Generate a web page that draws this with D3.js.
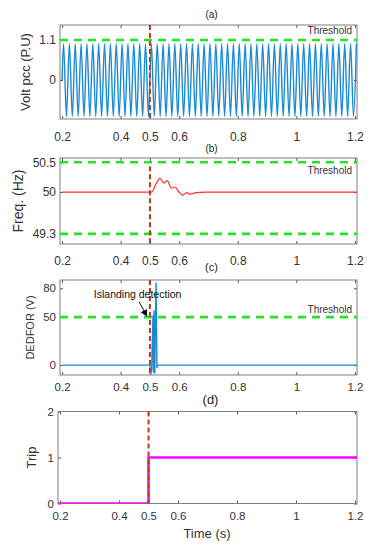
<!DOCTYPE html>
<html>
<head>
<meta charset="utf-8">
<script src="https://cdn.jsdelivr.net/npm/d3@7"></script>
<style>
  body { margin: 0; background: #fff; }
  text { font-family: "Liberation Sans", Arial, sans-serif; }
</style>
</head>
<body>
<script>
const width = 378;
const height = 550;

// shared time axis
const timeTicks = [0.2, 0.4, 0.5, 0.6, 0.8, 1, 1.2];
const islandingTime = 0.5;

// (a) voltage at PCC, extrema of the 50 Hz wave
const voltT = [0.2,
  0.205, 0.215, 0.225, 0.235, 0.245, 0.255, 0.265, 0.275, 0.285, 0.295,
  0.305, 0.315, 0.325, 0.335, 0.345, 0.355, 0.365, 0.375, 0.385, 0.395,
  0.405, 0.415, 0.425, 0.435, 0.445, 0.455, 0.465, 0.475, 0.485, 0.495,
  0.505, 0.515, 0.525, 0.535, 0.545, 0.555, 0.565, 0.575, 0.585, 0.595,
  0.605, 0.615, 0.625, 0.635, 0.645, 0.655, 0.665, 0.675, 0.685, 0.695,
  0.705, 0.715, 0.725, 0.735, 0.745, 0.755, 0.765, 0.775, 0.785, 0.795,
  0.805, 0.815, 0.825, 0.835, 0.845, 0.855, 0.865, 0.875, 0.885, 0.895,
  0.905, 0.915, 0.925, 0.935, 0.945, 0.955, 0.965, 0.975, 0.985, 0.995,
  1.005, 1.015, 1.025, 1.035, 1.045, 1.055, 1.065, 1.075, 1.085, 1.095,
  1.105, 1.115, 1.125, 1.135, 1.145, 1.155, 1.165, 1.175, 1.185, 1.195,
  1.205];
const voltV = [0,
  1, -1, 1, -1, 1, -1, 1, -1, 1, -1,
  1, -1, 1, -1, 1, -1, 1, -1, 1, -1,
  1, -1, 1, -1, 1, -1, 1, -1, 1, -1,
  1, -1, 1, -1, 1, -1, 1, -1, 1, -1,
  1, -1, 1, -1, 1, -1, 1, -1, 1, -1,
  1, -1, 1, -1, 1, -1, 1, -1, 1, -1,
  1, -1, 1, -1, 1, -1, 1, -1, 1, -1,
  1, -1, 1, -1, 1, -1, 1, -1, 1, -1,
  1, -1, 1, -1, 1, -1, 1, -1, 1, -1,
  1, -1, 1, -1, 1, -1, 1, -1, 1, -1,
  1];
const voltTicks = [0, 1.1];
const voltThresholds = [1.1];

// (b) frequency
const freqT = [0.2, 0.506, 0.52, 0.534, 0.548, 0.559, 0.574, 0.586, 0.599, 0.612, 0.626, 0.637, 0.657, 0.688, 1.21];
const freqV = [50, 50, 50.13, 50.23, 50.15, 50.19, 50.065, 50.08, 50.0, 49.95, 49.99, 49.965, 49.99, 50, 50];
const freqTicks = [49.3, 50, 50.5];
const freqThresholds = [50.5, 49.3];

// (c) DEDFOR
const dedT = [0.2, 0.5, 0.5024, 0.506, 0.5105, 0.512, 0.514, 0.5165, 0.521, 0.524, 0.527, 1.21];
const dedV = [0, 0, -10, -4, 52, -8, 57, -9, 86, -3, 0, 0];
const dedTicks = [0, 50, 80];
const dedThresholds = [50];

// (d) trip signal
const tripT = [0.193, 0.5, 0.5, 1.21];
const tripV = [0, 0, 1, 1];
const tripTicks = [0, 1, 2];

const svg = d3.select("body").append("svg")
  .attr("width", width)
  .attr("height", height);

const defs = svg.append("defs");
defs.append("marker")
  .attr("id", "arrowhead")
  .attr("viewBox", "0 0 10 10")
  .attr("refX", 9).attr("refY", 5)
  .attr("markerWidth", 7).attr("markerHeight", 7)
  .attr("orient", "auto")
  .append("path")
    .attr("d", "M0,0 L10,5 L0,10 Z")
    .attr("fill", "#111");

const fmt = d3.format("~g");
const red = "#b83a1a";
const green = "#22e622";

function panel(cfg) {
  const x = d3.scaleLinear().domain([0.193, 1.207]).range([cfg.left, cfg.right]);
  const y = d3.scaleLinear().domain(cfg.yDomain).range([cfg.bottom, cfg.top]);
  const g = svg.append("g");

  const clipId = "clip-" + cfg.name;
  defs.append("clipPath").attr("id", clipId)
    .append("rect")
      .attr("x", cfg.left).attr("y", cfg.top)
      .attr("width", cfg.right - cfg.left).attr("height", cfg.bottom - cfg.top);

  // axes with inward ticks
  g.append("g")
    .attr("transform", `translate(0,${cfg.bottom})`)
    .call(d3.axisBottom(x).tickValues(timeTicks).tickFormat(fmt)
      .tickSizeInner(-3).tickSizeOuter(0).tickPadding(cfg.xPad));
  g.append("g")
    .attr("transform", `translate(0,${cfg.top})`)
    .call(d3.axisTop(x).tickValues(timeTicks).tickFormat("")
      .tickSizeInner(-3).tickSizeOuter(0));
  g.append("g")
    .attr("transform", `translate(${cfg.left},0)`)
    .call(d3.axisLeft(y).tickValues(cfg.yTicks).tickFormat(fmt)
      .tickSizeInner(-3).tickSizeOuter(0).tickPadding(4));
  g.append("g")
    .attr("transform", `translate(${cfg.right},0)`)
    .call(d3.axisRight(y).tickValues(cfg.yTicks).tickFormat("")
      .tickSizeInner(-3).tickSizeOuter(0));
  g.selectAll(".domain").remove();
  g.selectAll(".tick line").attr("stroke", "#555");
  g.selectAll(".tick text").attr("fill", "#333").style("font-size", cfg.tickSize + "px");

  g.append("rect")
    .attr("x", cfg.left).attr("y", cfg.top)
    .attr("width", cfg.right - cfg.left).attr("height", cfg.bottom - cfg.top)
    .attr("fill", "none").attr("stroke", "#7f7f7f").attr("stroke-width", 1);

  const plot = g.append("g").attr("clip-path", `url(#${clipId})`);

  // the signal
  const pts = d3.zip(cfg.t, cfg.v);
  plot.append("path")
    .datum(pts)
    .attr("d", d3.line().x(d => x(d[0])).y(d => y(d[1])).curve(cfg.curve))
    .attr("fill", "none")
    .attr("stroke", cfg.color)
    .attr("stroke-width", cfg.lineWidth);

  // thresholds
  (cfg.thresholds || []).forEach(v => {
    plot.append("line")
      .attr("x1", cfg.left).attr("x2", cfg.right)
      .attr("y1", y(v)).attr("y2", y(v))
      .attr("stroke", green).attr("stroke-width", 2.6)
      .attr("stroke-dasharray", "8,6");
  });

  // islanding instant
  plot.append("line")
    .attr("x1", x(islandingTime)).attr("x2", x(islandingTime))
    .attr("y1", y(cfg.redFrom)).attr("y2", cfg.bottom)
    .attr("stroke", red).attr("stroke-width", 2)
    .attr("stroke-dasharray", "5,3");

  if (cfg.thresholdLabel) {
    g.append("text")
      .attr("x", cfg.right - 5).attr("y", y(cfg.thresholdLabel))
      .attr("text-anchor", "end").attr("dominant-baseline", "middle")
      .style("font-size", "10px").attr("fill", "#333")
      .text("Threshold");
  }

  // title and y label
  g.append("text")
    .attr("x", (cfg.left + cfg.right) / 2 + 3).attr("y", cfg.titleY)
    .attr("text-anchor", "middle").attr("dominant-baseline", "middle")
    .style("font-size", cfg.titleSize + "px").attr("fill", "#222")
    .text(cfg.title);
  g.append("text")
    .attr("transform", `translate(${cfg.yLabelX},${(cfg.top + cfg.bottom) / 2}) rotate(-90)`)
    .attr("text-anchor", "middle").attr("dominant-baseline", "middle")
    .style("font-size", cfg.yLabelSize + "px").attr("fill", "#333")
    .text(cfg.yLabel);

  return { x, y, g };
}

panel({
  name: "a", left: 60, right: 357, top: 25, bottom: 119,
  yDomain: [-1.07, 1.51], yTicks: voltTicks, tickSize: 12, xPad: 13,
  t: voltT, v: voltV, curve: d3.curveMonotoneX, color: "#1a8ad4", lineWidth: 1.4,
  thresholds: voltThresholds, thresholdLabel: 1.33, redFrom: 1.51,
  title: "(a)", titleY: 15, titleSize: 10,
  yLabel: "Volt pcc (P.U)", yLabelX: 27, yLabelSize: 13
});

panel({
  name: "b", left: 60, right: 357, top: 158, bottom: 244,
  yDomain: [49.13, 50.57], yTicks: freqTicks, tickSize: 12, xPad: 12,
  t: freqT, v: freqV, curve: d3.curveMonotoneX, color: "#ff3030", lineWidth: 1.2,
  thresholds: freqThresholds, thresholdLabel: 50.34, redFrom: 50.43,
  title: "(b)", titleY: 149, titleSize: 10,
  yLabel: "Freq. (Hz)", yLabelX: 19, yLabelSize: 14
});

const c = panel({
  name: "c", left: 60, right: 357, top: 280, bottom: 375,
  yDomain: [-10.3, 88.6], yTicks: dedTicks, tickSize: 11.5, xPad: 8,
  t: dedT, v: dedV, curve: d3.curveLinear, color: "#1a8ad4", lineWidth: 1.4,
  thresholds: dedThresholds, thresholdLabel: 56.5, redFrom: 88.6,
  title: "(c)", titleY: 268, titleSize: 11,
  yLabel: "DEDFOR (V)", yLabelX: 31, yLabelSize: 11
});

// islanding detection annotation
const annot = { text: "Islanding detection", t: 0.458, v: 73, fromT: 0.463, fromV: 66, toT: 0.4895, toV: 51 };
c.g.append("text")
  .attr("x", c.x(annot.t)).attr("y", c.y(annot.v))
  .attr("text-anchor", "middle").attr("dominant-baseline", "middle")
  .style("font-size", "10.5px").attr("fill", "#111")
  .text(annot.text);
c.g.append("line")
  .attr("x1", c.x(annot.fromT)).attr("y1", c.y(annot.fromV))
  .attr("x2", c.x(annot.toT)).attr("y2", c.y(annot.toV))
  .attr("stroke", "#111").attr("stroke-width", 1)
  .attr("marker-end", "url(#arrowhead)");

panel({
  name: "d", left: 58, right: 357, top: 411.5, bottom: 503.5,
  yDomain: [0, 2], yTicks: tripTicks, tickSize: 11.5, xPad: 8,
  t: tripT, v: tripV, curve: d3.curveLinear, color: "#ff00ff", lineWidth: 2.5,
  thresholds: [], redFrom: 2,
  title: "(d)", titleY: 401, titleSize: 13,
  yLabel: "Trip", yLabelX: 33, yLabelSize: 13
});

svg.append("text")
  .attr("x", 207).attr("y", 535)
  .attr("text-anchor", "middle").attr("dominant-baseline", "middle")
  .style("font-size", "13px").attr("fill", "#333")
  .text("Time (s)");
</script>
</body>
</html>
